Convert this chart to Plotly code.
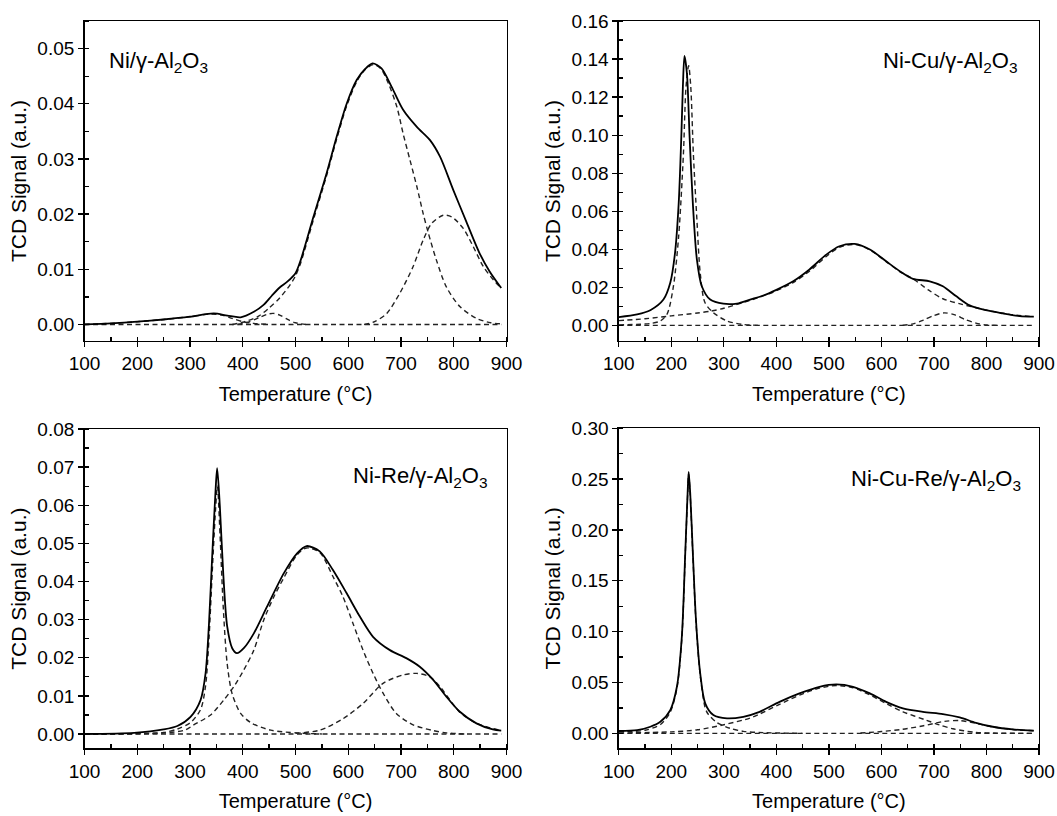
import plotly.graph_objects as go

W, H = 1057, 816

# ---------------- Panel 1: Ni/γ-Al2O3 ----------------
P1_MEAS_T = [100, 150, 200, 250, 300, 345, 371, 396, 421, 440, 455, 470, 485, 500, 510, 534, 559, 578, 597, 616, 632, 646, 663, 682, 704, 730, 755, 774, 799, 824, 849, 868, 890]
P1_MEAS = [0, 0.0002, 0.0005, 0.0009, 0.0014, 0.0020, 0.0016, 0.0013, 0.0023, 0.0036, 0.0052, 0.0067, 0.0078, 0.0093, 0.0117, 0.0195, 0.0274, 0.0340, 0.0400, 0.0443, 0.0463, 0.0473, 0.0464, 0.0431, 0.0389, 0.0358, 0.0334, 0.0304, 0.0244, 0.0186, 0.0129, 0.0096, 0.0066]
P1_C1_T = [100, 150, 200, 250, 300, 340, 360, 380, 400, 420, 450]
P1_C1 = [0, 0.0002, 0.0005, 0.0009, 0.0014, 0.0019, 0.0017, 0.0011, 0.0005, 0.0002, 0]
P1_C2_T = [390, 410, 430, 445, 458, 470, 485, 500, 520]
P1_C2 = [0, 0.0004, 0.0012, 0.0018, 0.0020, 0.0017, 0.0009, 0.0003, 0]
P1_C3_T = [380, 400, 430, 450, 470, 490, 500, 510, 534, 559, 578, 597, 616, 632, 648, 662, 676, 692, 704, 717, 730, 742, 752, 767, 786, 812, 843, 870, 890]
P1_C3 = [0, 0.0004, 0.0015, 0.0030, 0.0048, 0.0072, 0.0088, 0.0112, 0.0190, 0.0270, 0.0336, 0.0396, 0.0440, 0.0462, 0.0471, 0.0463, 0.0437, 0.0395, 0.0346, 0.0298, 0.0250, 0.0201, 0.0165, 0.0117, 0.0068, 0.0032, 0.0011, 0.0003, 0.0001]
P1_C4_T = [630, 650, 673, 698, 723, 742, 758, 780, 796, 818, 837, 856, 875, 890]
P1_C4 = [0, 0.0005, 0.0020, 0.0057, 0.0105, 0.0153, 0.0183, 0.0198, 0.0195, 0.0174, 0.0141, 0.0105, 0.0081, 0.0066]

# ---------------- Panel 2: Ni-Cu/γ-Al2O3 ----------------
P2_MEAS_T = [100, 135, 160, 185, 198, 207, 214, 219, 222, 225, 229.7, 234.8, 241, 248.7, 258, 274, 299, 325, 350, 375, 400, 432, 463, 495, 520, 549, 578, 609, 635, 660, 692, 717, 742, 768, 799, 831, 863, 890]
P2_MEAS = [0.0044, 0.0058, 0.0080, 0.0136, 0.0224, 0.0380, 0.0640, 0.0990, 0.1255, 0.1416, 0.1325, 0.0990, 0.0640, 0.0346, 0.0206, 0.0136, 0.0114, 0.0115, 0.0136, 0.0157, 0.0187, 0.0232, 0.0294, 0.0372, 0.0416, 0.0428, 0.0399, 0.0337, 0.0285, 0.0245, 0.0232, 0.0206, 0.0154, 0.0105, 0.0080, 0.0063, 0.0049, 0.0046]
P2_C1_T = [100, 160, 179, 192, 204, 214, 223, 228, 233, 237, 242, 248.7, 255, 264, 280, 306, 337, 370]
P2_C1 = [0.0003, 0.0010, 0.0023, 0.0060, 0.0206, 0.0470, 0.0900, 0.1255, 0.1365, 0.1255, 0.0900, 0.0556, 0.0276, 0.0120, 0.0067, 0.0023, 0.0005, 0]
P2_C2_T = [100, 150, 200, 250, 275, 300, 350, 368, 400, 432, 463, 495, 520, 549, 578, 609, 635, 660, 690, 717, 750, 780, 800, 850, 890]
P2_C2 = [0.0025, 0.0035, 0.0050, 0.0065, 0.0075, 0.0090, 0.0132, 0.0148, 0.0182, 0.0225, 0.0285, 0.0362, 0.0410, 0.0425, 0.0397, 0.0335, 0.0283, 0.0245, 0.0185, 0.0140, 0.0113, 0.0093, 0.0080, 0.0056, 0.0046]
P2_C3_T = [640, 660, 680, 700, 720, 740, 760, 780, 800, 820]
P2_C3 = [0, 0.0008, 0.0028, 0.0052, 0.0066, 0.0055, 0.0030, 0.0012, 0.0002, 0]

# ---------------- Panel 3: Ni-Re/γ-Al2O3 ----------------
P3_MEAS_T = [100, 194, 250, 276, 301, 320, 329.5, 336, 342, 348.5, 351.5, 356.6, 363, 370.5, 380, 389, 402, 421, 446, 478, 503, 521, 546, 571, 597, 622, 647, 679, 710, 735, 761, 786, 811, 843, 874, 890]
P3_MEAS = [0, 0.0003, 0.0012, 0.0021, 0.0045, 0.0089, 0.0159, 0.0290, 0.0465, 0.0640, 0.0697, 0.0597, 0.0422, 0.0282, 0.0225, 0.0212, 0.0225, 0.0264, 0.0334, 0.0422, 0.0474, 0.0493, 0.0479, 0.0430, 0.0369, 0.0308, 0.0255, 0.0220, 0.0199, 0.0177, 0.0142, 0.0098, 0.0059, 0.0028, 0.0012, 0.0009]
P3_C1_T = [100, 200, 250, 276, 301, 320, 329.5, 336, 342, 348.5, 352, 357, 363, 370.5, 380, 396, 415, 453, 503, 550]
P3_C1 = [0, 0.0001, 0.0004, 0.0013, 0.0030, 0.0064, 0.0126, 0.0250, 0.0420, 0.0590, 0.0650, 0.0520, 0.0334, 0.0184, 0.0105, 0.0054, 0.0030, 0.0010, 0.0003, 0]
P3_C2_T = [100, 250, 290, 307, 339, 364, 383, 402, 421, 440, 459, 478, 503, 521, 546, 571, 590, 609, 628, 647, 666, 691, 723, 761, 786, 820]
P3_C2 = [0, 0.0003, 0.0010, 0.0024, 0.0050, 0.0089, 0.0124, 0.0168, 0.0220, 0.0300, 0.0360, 0.0410, 0.0470, 0.0488, 0.0476, 0.0413, 0.0360, 0.0290, 0.0220, 0.0159, 0.0107, 0.0054, 0.0024, 0.0009, 0.0003, 0]
P3_C3_T = [500, 546, 590, 628, 666, 704, 730, 755, 774, 811, 843, 887]
P3_C3 = [0.0002, 0.0010, 0.0040, 0.0080, 0.0133, 0.0155, 0.0159, 0.0150, 0.0124, 0.0058, 0.0028, 0.0010]

# ---------------- Panel 4: Ni-Cu-Re/γ-Al2O3 ----------------
P4_MEAS_T = [100, 135, 160, 179, 198, 210.6, 220, 226.5, 231, 233, 236, 241, 247, 255, 264.5, 280, 306, 337, 368, 406, 444, 482, 514, 546, 578, 609, 641, 679, 717, 749, 780, 812, 850, 890]
P4_MEAS = [0.0023, 0.0032, 0.0065, 0.0114, 0.0229, 0.0458, 0.0950, 0.1770, 0.2360, 0.2570, 0.2360, 0.1770, 0.1110, 0.0590, 0.0295, 0.0180, 0.0147, 0.0163, 0.0212, 0.0310, 0.0393, 0.0458, 0.0481, 0.0458, 0.0393, 0.0310, 0.0246, 0.0212, 0.0190, 0.0157, 0.0104, 0.0065, 0.0039, 0.0026]
P4_C1_T = [100, 150, 180, 198, 210.6, 220, 226.5, 231, 233, 236, 241, 247, 255, 264.5, 270, 287, 312, 337, 375, 450]
P4_C1 = [0.0015, 0.0030, 0.0090, 0.0210, 0.0440, 0.0930, 0.1750, 0.2340, 0.2550, 0.2340, 0.1750, 0.1090, 0.0570, 0.0250, 0.0190, 0.0105, 0.0049, 0.0020, 0.0007, 0]
P4_C2_T = [100, 200, 250, 300, 350, 368, 406, 444, 482, 514, 546, 578, 610, 641, 685, 711, 736, 775, 820, 890]
P4_C2 = [0.0003, 0.0015, 0.0035, 0.0085, 0.0150, 0.0190, 0.0285, 0.0376, 0.0445, 0.0470, 0.0448, 0.0378, 0.0290, 0.0212, 0.0130, 0.0082, 0.0045, 0.0012, 0.0002, 0]
P4_C3_T = [560, 600, 640, 680, 720, 750, 780, 812, 850, 890]
P4_C3 = [0.0003, 0.0018, 0.0040, 0.0075, 0.0118, 0.0125, 0.0098, 0.0063, 0.0038, 0.0025]

BASE_T = [100, 890]
BASE_V = [0, 0]

LABELS = ["Ni/γ-Al<sub>2</sub>O<sub>3</sub>", "Ni-Cu/γ-Al<sub>2</sub>O<sub>3</sub>",
          "Ni-Re/γ-Al<sub>2</sub>O<sub>3</sub>", "Ni-Cu-Re/γ-Al<sub>2</sub>O<sub>3</sub>"]
X_TITLE = "Temperature (°C)"
Y_TITLE = "TCD Signal (a.u.)"

panels = [
    dict(meas=(P1_MEAS_T, P1_MEAS), comps=[(P1_C1_T, P1_C1), (P1_C2_T, P1_C2), (P1_C3_T, P1_C3), (P1_C4_T, P1_C4)],
         yr=[-0.003, 0.055], dt=0.01, mdt=0.005, fmt=".2f",
         xpx=[84.5, 506.5], ypx=[21, 341]),
    dict(meas=(P2_MEAS_T, P2_MEAS), comps=[(P2_C1_T, P2_C1), (P2_C2_T, P2_C2), (P2_C3_T, P2_C3)],
         yr=[-0.0082, 0.16], dt=0.02, mdt=0.01, fmt=".2f",
         xpx=[618.8, 1039], ypx=[21, 341]),
    dict(meas=(P3_MEAS_T, P3_MEAS), comps=[(P3_C1_T, P3_C1), (P3_C2_T, P3_C2), (P3_C3_T, P3_C3)],
         yr=[-0.00375, 0.08], dt=0.01, mdt=0.005, fmt=".2f",
         xpx=[84.5, 506.5], ypx=[429, 748.3]),
    dict(meas=(P4_MEAS_T, P4_MEAS), comps=[(P4_C1_T, P4_C1), (P4_C2_T, P4_C2), (P4_C3_T, P4_C3)],
         yr=[-0.0147, 0.30], dt=0.05, mdt=0.025, fmt=".2f",
         xpx=[618.8, 1039], ypx=[428.3, 748.3]),
]
ann_pos = [(107, 62, "left"), (1019, 62, "right"), (489, 477, "right"), (1023, 480, "right")]

FONT = "Liberation Sans, Arial, sans-serif"
fig = go.Figure()
layout = dict(width=W, height=H, margin=dict(l=0, r=0, t=0, b=0, autoexpand=False),
              paper_bgcolor="white", plot_bgcolor="white", showlegend=False,
              font=dict(family=FONT, color="black"), annotations=[])

for i, p in enumerate(panels):
    k = "" if i == 0 else str(i + 1)
    xa, ya = "x" + k, "y" + k
    for (t, v) in [(BASE_T, BASE_V)] + p["comps"]:
        fig.add_trace(go.Scatter(x=t, y=v, mode="lines", xaxis=xa, yaxis=ya,
                                 line=dict(color="#222222", width=1.4, dash="5px,3.5px", shape="spline", smoothing=0.8),
                                 hoverinfo="skip"))
    fig.add_trace(go.Scatter(x=p["meas"][0], y=p["meas"][1], mode="lines", xaxis=xa, yaxis=ya,
                             line=dict(color="black", width=1.8, shape="spline", smoothing=0.8),
                             hoverinfo="skip"))
    x0, x1 = p["xpx"]
    y0, y1 = p["ypx"]
    common = dict(showline=True, linecolor="black", linewidth=1.4, mirror=True, showgrid=False,
                  zeroline=False, ticks="outside", ticklen=5, tickwidth=1.3, tickcolor="black",
                  automargin=False,
                  tickfont=dict(family=FONT, size=19, color="black"),
                  minor=dict(ticks="inside", ticklen=4, tickwidth=1.3, tickcolor="black", showgrid=False))
    layout["xaxis" + k] = dict(common, domain=[x0 / W, x1 / W], range=[100, 900], dtick=100, tick0=100,
                               minor=dict(common["minor"], dtick=50),
                               anchor=ya,
                               title=dict(text=X_TITLE, font=dict(family=FONT, size=20, color="black"), standoff=13))
    layout["yaxis" + k] = dict(common, domain=[1 - y1 / H, 1 - y0 / H], range=p["yr"], dtick=p["dt"], tick0=0,
                               tickformat=p["fmt"], minor=dict(common["minor"], dtick=p["mdt"]),
                               anchor=xa,
                               title=dict(text=Y_TITLE, font=dict(family=FONT, size=21, color="black"), standoff=5))
    ax, ay, anc = ann_pos[i]
    layout["annotations"].append(dict(text=LABELS[i], xref="paper", yref="paper", x=ax / W, y=1 - ay / H,
                                      xanchor=anc, yanchor="middle", showarrow=False,
                                      font=dict(family=FONT, size=22, color="black")))

fig.update_layout(**layout)
fig.write_html("out.html", config={"displayModeBar": False, "staticPlot": True},
               post_script="document.body.style.margin='0';document.body.style.padding='0';"
                           "document.documentElement.style.overflow='hidden';document.body.style.overflow='hidden';")
